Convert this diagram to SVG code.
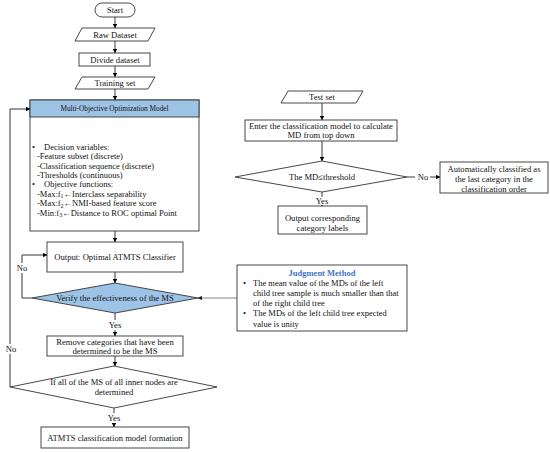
<svg xmlns="http://www.w3.org/2000/svg" width="550" height="452" viewBox="0 0 550 452">
<defs>
<marker id="ah" viewBox="0 0 8 8" refX="7.5" refY="4" markerWidth="5" markerHeight="5" orient="auto"><path d="M0,0 L8,4 L0,8 z" fill="#000"/></marker>
<marker id="ahg" viewBox="0 0 8 8" refX="7.5" refY="4" markerWidth="5" markerHeight="5" orient="auto"><path d="M0,0 L8,4 L0,8 z" fill="#222"/></marker>
</defs>
<style>
text{font-family:"Liberation Serif","Times New Roman",serif;fill:#111;}
.s{fill:#fff;stroke:#333;stroke-width:0.9;}
.b{fill:#9dc3e6;stroke:#333;stroke-width:0.9;}
.t{font-size:8.6px;text-anchor:middle;}
.m{font-size:8.5px;}
.h{font-size:7.3px;text-anchor:middle;}
.j{font-size:8.5px;}
.c{fill:none;stroke:#222;stroke-width:0.9;marker-end:url(#ah);}
.g{fill:none;stroke:#777;stroke-width:0.9;marker-end:url(#ahg);}
.lb{font-size:8.6px;text-anchor:middle;}
</style>
<rect width="550" height="452" fill="#fff"/>
<g id="connectors">
<path class="c" d="M115,17 V28"/>
<path class="c" d="M115,41 V53"/>
<path class="c" d="M115,66 V77"/>
<path class="c" d="M115,89 V100"/>
<path class="c" d="M115,231 V242"/>
<path class="c" d="M115,272 V283"/>
<path class="c" d="M115,313 V336"/>
<path class="c" d="M115,356 V366"/>
<path class="c" d="M114,408 V427"/>
<path class="c" d="M10,387 V109 H30"/>
<path class="c" d="M32,298 H22 V255 H47"/>
<path class="g" d="M237,298 H198"/>
<path class="c" d="M322,103 V120"/>
<path class="c" d="M322,141 V161"/>
<path class="c" d="M407,177 H440"/>
<path class="c" d="M322,192 V206"/>
<rect x="3" y="344" width="15" height="10" fill="#fff"/>
<text class="lb" x="11" y="352">No</text>
<rect x="15" y="263" width="15" height="10" fill="#fff"/>
<text class="lb" x="22" y="271">No</text>
<rect x="107" y="320" width="16" height="10" fill="#fff"/>
<text class="lb" x="115" y="328">Yes</text>
<rect x="106" y="413" width="16" height="10" fill="#fff"/>
<text class="lb" x="114" y="421">Yes</text>
<rect x="415" y="172" width="15" height="10" fill="#fff"/>
<text class="lb" x="423" y="180">No</text>
<rect x="314" y="197" width="16" height="8" fill="#fff"/>
<text class="lb" x="322" y="204">Yes</text>
</g>
<g id="start"><rect class="s" x="95" y="3" width="40" height="14" rx="7"/><text class="t" x="115" y="13">Start</text></g>
<g id="raw"><polygon class="s" points="82,28 155,28 148,41 75,41"/><text class="t" x="115" y="37.5">Raw Dataset</text></g>
<g id="divide"><rect class="s" x="79" y="53" width="71" height="13"/><text class="t" x="115" y="62.5">Divide dataset</text></g>
<g id="training"><polygon class="s" points="82,77 155,77 148,89 75,89"/><text class="t" x="115" y="86">Training set</text></g>
<g id="moo">
<rect class="s" x="30" y="100" width="169" height="131"/>
<rect class="b" x="30" y="100" width="169" height="17"/>
<text class="h" x="114.5" y="111">Multi-Objective Optimization Model</text>
<text class="m" x="32" y="149.5">•</text><text class="m" x="44" y="149.5">Decision variables:</text>
<text class="m" x="37" y="159">-Feature subset (discrete)</text>
<text class="m" x="37" y="168.5">-Classification sequence (discrete)</text>
<text class="m" x="37" y="178">-Thresholds (continuous)</text>
<text class="m" x="32" y="187">•</text><text class="m" x="44" y="187">Objective functions:</text>
<text class="m" x="37" y="196.5">-Max:f<tspan font-size="6" dy="1.5">1</tspan><tspan dy="-1.5">←Interclass separability</tspan></text>
<text class="m" x="37" y="206">-Max:f<tspan font-size="6" dy="1.5">2</tspan><tspan dy="-1.5">←NMI-based feature score</tspan></text>
<text class="m" x="37" y="215.5">-Min:f<tspan font-size="6" dy="1.5">3</tspan><tspan dy="-1.5">←Distance to ROC optimal Point</tspan></text>
</g>
<g id="output"><rect class="s" x="47" y="242" width="136" height="30"/><text class="t" x="115" y="260">Output: Optimal ATMTS Classifier</text></g>
<g id="verify"><polygon class="b" points="32,298 115,283 198,298 115,313"/><text class="t" x="115" y="301">Verify the effectiveness of the MS</text></g>
<g id="remove"><rect class="s" x="47" y="336" width="136" height="20"/><text class="t" x="115" y="344.5">Remove categories that have been</text><text class="t" x="115" y="354">determined to be the MS</text></g>
<g id="allms"><polygon class="s" points="10,387 114,366 217,387 114,408"/><text class="t" x="114" y="385">If all of the MS of all inner nodes are</text><text class="t" x="114" y="395">determined</text></g>
<g id="final"><rect class="s" x="41" y="427" width="148" height="21"/><text class="t" x="115" y="440.5">ATMTS classification model formation</text></g>
<g id="testset"><polygon class="s" points="288,91 363,91 356,103 281,103"/><text class="t" x="322" y="100">Test set</text></g>
<g id="enter"><rect class="s" x="245" y="120" width="152" height="21"/><text class="t" x="321" y="128.5">Enter the classification model to calculate</text><text class="t" x="321" y="138">MD from top down</text></g>
<g id="mdthr"><polygon class="s" points="235,177 322,161 407,177 322,192"/><text class="t" x="322" y="180">The MD≤threshold</text></g>
<g id="auto"><rect class="s" x="440" y="162" width="108" height="31"/><text class="t" x="494" y="171.5">Automatically classified as</text><text class="t" x="494" y="182">the last category in the</text><text class="t" x="494" y="191.5">classification order</text></g>
<g id="outlabels"><rect class="s" x="278" y="206" width="89" height="28"/><text class="t" x="322.5" y="221">Output corresponding</text><text class="t" x="322.5" y="231">category labels</text></g>
<g id="judgment">
<rect class="s" x="237" y="265" width="170" height="66"/>
<text class="j" x="322" y="276" text-anchor="middle" font-weight="bold" style="fill:#4472c4">Judgment Method</text>
<text class="j" x="243" y="285.5">•</text><text class="j" x="253" y="285.5">The mean value of the MDs of the left</text>
<text class="j" x="253" y="295.5">child tree sample is much smaller than that</text>
<text class="j" x="253" y="305.5">of the right child tree</text>
<text class="j" x="243" y="316">•</text><text class="j" x="253" y="316">The MDs of the left child tree expected</text>
<text class="j" x="253" y="327">value is unity</text>
</g>
</svg>
